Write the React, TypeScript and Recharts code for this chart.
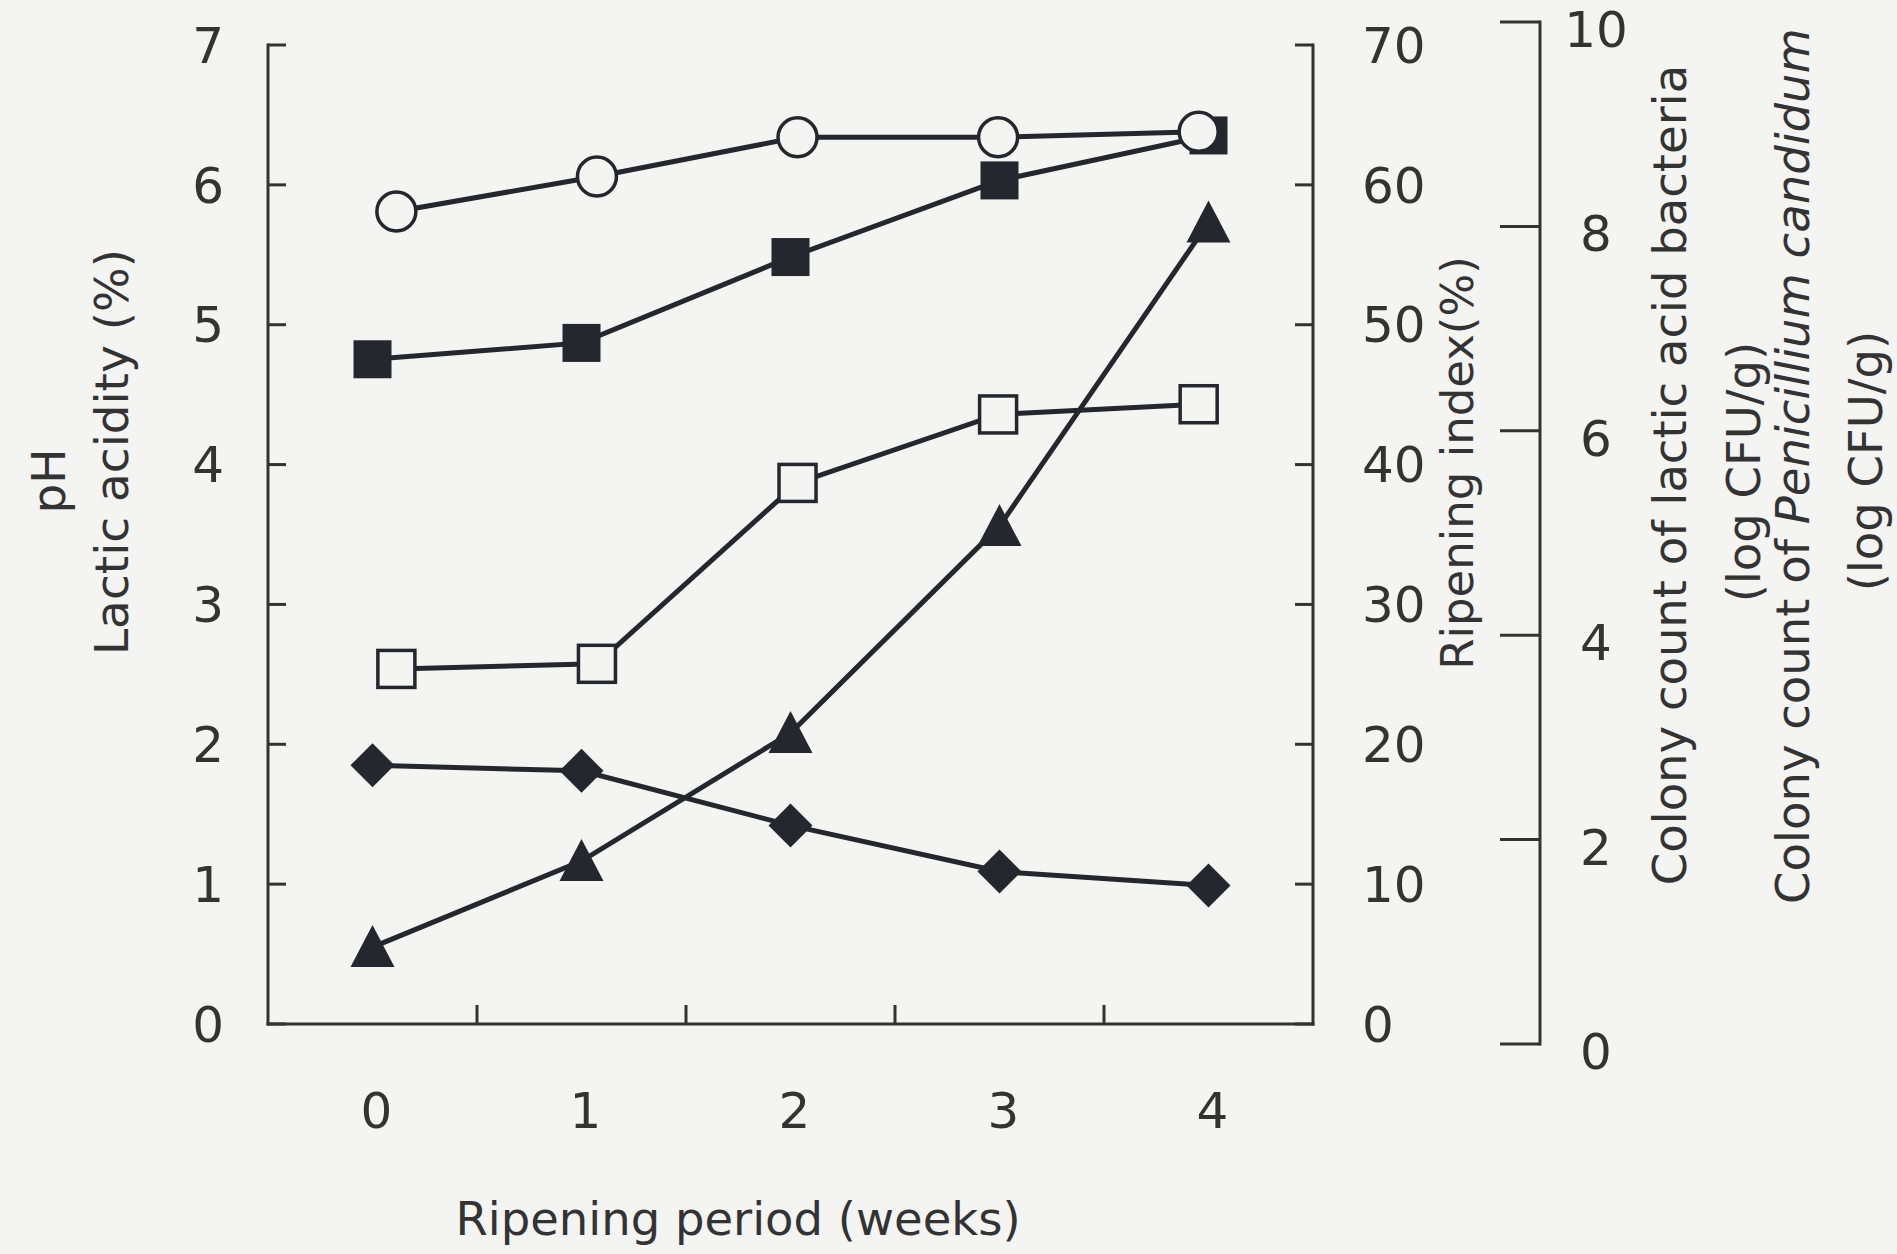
import React from 'react';
import { ComposedChart, Line, XAxis, YAxis } from 'recharts';

// ---------- data ----------
const weeks = [0, 1, 2, 3, 4];
const phValues = [5.81, 6.06, 6.34, 6.34, 6.38];
const lacticAcidity = [1.85, 1.81, 1.42, 1.09, 0.99];
const ripeningIndex = [5.5, 11.65, 20.8, 35.6, 57.3];
const lacticAcidBacteria = [6.7, 6.86, 7.7, 8.45, 8.89];
const penicilliumCandidum = [3.67, 3.72, 5.49, 6.16, 6.26];

const leftTicks = [0, 1, 2, 3, 4, 5, 6, 7];
const ripeningTicks = [0, 10, 20, 30, 40, 50, 60, 70];
const colonyTicks = [0, 2, 4, 6, 8, 10];
const weekBoundaryTicks = [0.5, 1.5, 2.5, 3.5];

const mainData = weeks.map((w, i) => ({
  week: w,
  ph: phValues[i],
  acidity: lacticAcidity[i],
  ripening: ripeningIndex[i],
}));
const colonyData = weeks.map((w, i) => ({
  week: w,
  lab: lacticAcidBacteria[i],
  pc: penicilliumCandidum[i],
}));

// ---------- styles ----------
const BG = '#f4f4f2';
const INK = '#26262e';
const AXIS = '#333333';
const TEXT = '#333333';
const FONT = '"DejaVu Sans", Verdana, sans-serif';
const LINE_W = 5;
const axisLineStyle = { stroke: AXIS, strokeWidth: 3, strokeLinecap: 'square' as const };
const tickLineStyle = { stroke: AXIS, strokeWidth: 3 };
const tickText = { fontSize: 50, fill: TEXT, fontFamily: FONT };

// ---------- markers ----------
const circleDot = (p: any) => {
  if (p.cx == null || p.cy == null) return null;
  return <circle key={`c-${p.index}`} cx={p.cx} cy={p.cy} r={19.5} fill={BG} stroke={INK} strokeWidth={3.5} />;
};
const filledSquareDot = (p: any) => {
  if (p.cx == null || p.cy == null) return null;
  return <rect key={`fs-${p.index}`} x={p.cx - 19} y={p.cy - 19} width={38} height={38} fill={INK} />;
};
const openSquareDot = (p: any) => {
  if (p.cx == null || p.cy == null) return null;
  return (
    <rect key={`os-${p.index}`} x={p.cx - 18.5} y={p.cy - 18.5} width={37} height={37} fill={BG} stroke={INK} strokeWidth={3.5} />
  );
};
const diamondDot = (p: any) => {
  if (p.cx == null || p.cy == null) return null;
  const { cx, cy } = p;
  return (
    <polygon key={`d-${p.index}`} points={`${cx},${cy - 22} ${cx + 22},${cy} ${cx},${cy + 22} ${cx - 22},${cy}`} fill={INK} />
  );
};
const triangleDot = (p: any) => {
  if (p.cx == null || p.cy == null) return null;
  const { cx, cy } = p;
  return (
    <polygon key={`t-${p.index}`} points={`${cx},${cy - 22} ${cx + 22},${cy + 20} ${cx - 22},${cy + 20}`} fill={INK} />
  );
};

// colony axis tick: centred label, sitting slightly below its tick
const ColonyTick = (p: any) => (
  <text
    x={p.x}
    y={p.y + 8}
    textAnchor="middle"
    dominantBaseline="central"
    fontSize={50}
    fontFamily={FONT}
    fill={TEXT}
  >
    {p.payload?.value}
  </text>
);

// ---------- axis titles ----------
const vText = (x: number, y: number, content: React.ReactNode, size: number, key: string) => (
  <text
    key={key}
    x={x}
    y={y}
    transform={`rotate(-90 ${x} ${y})`}
    textAnchor="middle"
    dominantBaseline="central"
    fontSize={size}
    fontFamily={FONT}
    fill={TEXT}
  >
    {content}
  </text>
);

const leftTitle = () => (
  <g>
    {vText(48, 481, 'pH', 47, 'ph')}
    {vText(111, 452, 'Lactic acidity (%)', 47, 'la')}
  </g>
);

const ripeningTitle = () => <g>{vText(1457, 463, 'Ripening index(%)', 45, 'ri')}</g>;

const colonyTitle = () => (
  <g>
    {vText(1670, 475, 'Colony count of lactic acid bacteria', 46.5, 'c1')}
    {vText(1744, 472, '(log CFU/g)', 46.5, 'c2')}
    {vText(
      1793,
      466,
      <>
        <tspan>Colony count of </tspan>
        <tspan fontStyle="italic">Penicillium candidum</tspan>
      </>,
      46.5,
      'c3'
    )}
    {vText(1866, 461, '(log CFU/g)', 46.5, 'c4')}
  </g>
);

const xTitle = () => (
  <text x={738} y={1219} textAnchor="middle" dominantBaseline="central" fontSize={46.5} fontFamily={FONT} fill={TEXT}>
    Ripening period (weeks)
  </text>
);

export default function App() {
  return (
    <div style={{ position: 'absolute', left: 0, top: 0, width: 1897, height: 1254, background: BG, overflow: 'hidden' }}>
      {/* colony counts (third axis) - drawn underneath */}
      <div style={{ position: 'absolute', left: 0, top: 0 }}>
        <ComposedChart width={1897} height={1254} data={colonyData} margin={{ top: 22, right: 157, bottom: 210, left: 268 }}>
          <XAxis xAxisId="cat" dataKey="week" type="category" scale="band" hide padding={{ left: 0, right: 227 }} />
          <XAxis xAxisId="open" dataKey="week" type="number" domain={[-0.64, 4.57]} hide padding={{ left: 0, right: 227 }} />
          <YAxis
            yAxisId="colony"
            orientation="right"
            width={200}
            domain={[0, 10]}
            ticks={colonyTicks}
            interval={0}
            tickSize={-40}
            tickMargin={96}
            axisLine={axisLineStyle}
            tickLine={tickLineStyle}
            tick={<ColonyTick />}
            label={colonyTitle}
          />
          <Line
            xAxisId="cat"
            yAxisId="colony"
            dataKey="lab"
            stroke={INK}
            strokeWidth={LINE_W}
            dot={filledSquareDot}
            isAnimationActive={false}
          />
          <Line
            xAxisId="open"
            yAxisId="colony"
            dataKey="pc"
            stroke={INK}
            strokeWidth={LINE_W}
            dot={openSquareDot}
            isAnimationActive={false}
          />
        </ComposedChart>
      </div>

      {/* main chart */}
      <div style={{ position: 'absolute', left: 0, top: 0 }}>
        <ComposedChart width={1897} height={1254} data={mainData} margin={{ top: 45, right: 384, bottom: 80, left: 0 }}>
          <XAxis
            xAxisId="cat"
            dataKey="week"
            type="category"
            scale="band"
            height={149}
            axisLine={false}
            tickLine={false}
            tickSize={0}
            tickMargin={67}
            interval={0}
            tick={{ ...tickText, dx: 4 }}
            label={xTitle}
          />
          <XAxis
            xAxisId="aframe"
            dataKey="week"
            type="number"
            domain={[-0.5, 4.5]}
            ticks={weekBoundaryTicks}
            interval={0}
            height={1}
            tick={{ fontSize: 1, fill: 'none' }}
            tickSize={-19}
            tickMargin={0}
            axisLine={axisLineStyle}
            tickLine={tickLineStyle}
          />
          <XAxis xAxisId="open" dataKey="week" type="number" domain={[-0.64, 4.57]} hide />
          <YAxis
            yAxisId="left"
            orientation="left"
            width={268}
            domain={[0, 7]}
            ticks={leftTicks}
            interval={0}
            tickSize={-18}
            tickMargin={62}
            axisLine={axisLineStyle}
            tickLine={tickLineStyle}
            tick={tickText}
            label={leftTitle}
          />
          <YAxis
            yAxisId="ripening"
            orientation="right"
            width={200}
            domain={[0, 70]}
            ticks={ripeningTicks}
            interval={0}
            tickSize={-18}
            tickMargin={67}
            axisLine={axisLineStyle}
            tickLine={tickLineStyle}
            tick={tickText}
            label={ripeningTitle}
          />
          <Line
            xAxisId="cat"
            yAxisId="left"
            dataKey="acidity"
            stroke={INK}
            strokeWidth={LINE_W}
            dot={diamondDot}
            isAnimationActive={false}
          />
          <Line
            xAxisId="cat"
            yAxisId="ripening"
            dataKey="ripening"
            stroke={INK}
            strokeWidth={LINE_W}
            dot={triangleDot}
            isAnimationActive={false}
          />
          <Line
            xAxisId="open"
            yAxisId="left"
            dataKey="ph"
            stroke={INK}
            strokeWidth={LINE_W}
            dot={circleDot}
            isAnimationActive={false}
          />
        </ComposedChart>
      </div>
    </div>
  );
}
